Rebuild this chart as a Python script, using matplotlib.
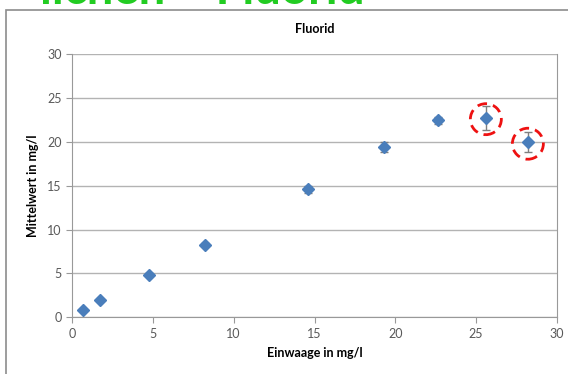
import matplotlib
matplotlib.use('Agg')
from matplotlib import pyplot as plt
from matplotlib.patches import Ellipse, Rectangle

# Einwaage (x) vs. Mittelwert (y) with standard deviation
einwaage = [0.7, 1.75, 4.75, 8.2, 14.6, 19.3, 22.65, 25.6, 28.2]
mittelwert = [0.8, 1.95, 4.85, 8.3, 14.6, 19.4, 22.5, 22.75, 19.95]
fehler = [0.1, 0.1, 0.15, 0.15, 0.4, 0.6, 0.4, 1.35, 1.15]
# points that are marked as outliers
markiert = [7, 8]

x_ticks = [0, 5, 10, 15, 20, 25, 30]
y_ticks = [0, 5, 10, 15, 20, 25, 30]

plt.rcParams['font.family'] = ['Lato', 'DejaVu Sans']

fig = plt.figure(figsize=(5.68, 3.74), dpi=100)
ax = fig.add_axes([0.1268, 0.1516, 0.8538, 0.7032])

# outer chart frame and cut-off slide heading
fig.patches.append(Rectangle((6 / 568, -0.1), 2.0, 1 - 10 / 374 + 0.1, transform=fig.transFigure,
                             fill=False, edgecolor='#8c8c8c', linewidth=1.2))
fig.text(0.07, 1 - 3.5 / 374, 'lichen \u2013 Fluorid', color='#22cc22', fontsize=34, fontweight='bold',
         ha='left', va='baseline')

ax.errorbar(einwaage, mittelwert, yerr=fehler, fmt='D', color='#4a7ebb', markersize=6.5,
            ecolor='#7f7f7f', elinewidth=1, capsize=3, capthick=1, zorder=3)

for i in markiert:
    ax.add_patch(Ellipse((einwaage[i], mittelwert[i] - 0.15), width=31 / 16.17, height=31 / 8.77,
                         fill=False, edgecolor='#ee1111', linewidth=2, linestyle=(0, (3.5, 2.2)),
                         zorder=4))

ax.set_xlim(0, 30)
ax.set_ylim(0, 30)
ax.set_xticks(x_ticks)
ax.set_yticks(y_ticks)
ax.yaxis.grid(True, color='#b3b3b3', linewidth=1)
ax.set_axisbelow(True)
for s in ax.spines.values():
    s.set_color('#999999')
ax.spines['top'].set_visible(False)
ax.tick_params(colors='#999999', labelcolor='#595959', labelsize=9, length=4)

ax.set_title('Fluorid', fontsize=9, fontweight='bold', pad=15)
ax.set_xlabel('Einwaage in mg/l', fontsize=9, fontweight='bold', labelpad=5)
ax.set_ylabel('Mittelwert in mg/l', fontsize=9, fontweight='bold', labelpad=6)

fig.savefig('out.png', dpi=100)
